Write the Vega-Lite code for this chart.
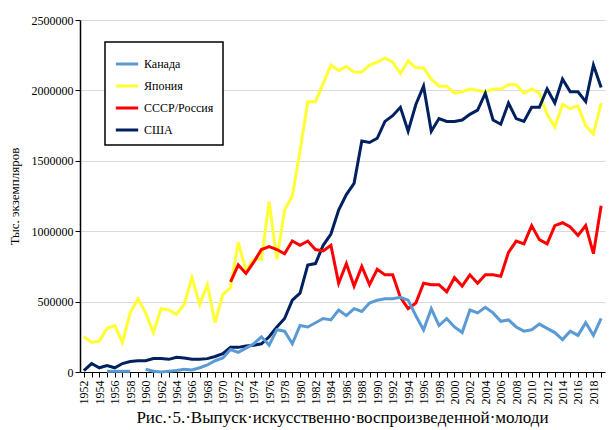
{
  "$schema": "https://vega.github.io/schema/vega-lite/v6.json",
  "width": 615,
  "height": 430,
  "autosize": {"type": "fit", "contains": "padding"},
  "padding": {"left": 8, "right": 8, "top": 14, "bottom": 4},
  "background": "#ffffff",
  "title": {
    "text": "Рис.·5.·Выпуск·искусственно·воспроизведенной·молоди",
    "orient": "bottom",
    "font": "Liberation Serif",
    "fontSize": 17,
    "fontWeight": "normal",
    "color": "#000000",
    "offset": 6
  },
  "config": {
    "view": {"stroke": null},
    "axis": {"labelFont": "Liberation Serif", "labelFontSize": 12, "labelColor": "#000000", "titleFont": "Liberation Serif", "titleFontWeight": "normal", "titleFontSize": 13, "titleColor": "#000000"},
    "legend": {"strokeWidth": 1.5}
  },
  "data": {
    "values": [
      {"y":1952,"s":"Япония","g":"j","v":250},{"y":1953,"s":"Япония","g":"j","v":210},{"y":1954,"s":"Япония","g":"j","v":220},{"y":1955,"s":"Япония","g":"j","v":310},{"y":1956,"s":"Япония","g":"j","v":330},{"y":1957,"s":"Япония","g":"j","v":210},{"y":1958,"s":"Япония","g":"j","v":420},{"y":1959,"s":"Япония","g":"j","v":520},{"y":1960,"s":"Япония","g":"j","v":420},{"y":1961,"s":"Япония","g":"j","v":280},{"y":1962,"s":"Япония","g":"j","v":450},{"y":1963,"s":"Япония","g":"j","v":440},{"y":1964,"s":"Япония","g":"j","v":410},{"y":1965,"s":"Япония","g":"j","v":480},{"y":1966,"s":"Япония","g":"j","v":670},{"y":1967,"s":"Япония","g":"j","v":480},{"y":1968,"s":"Япония","g":"j","v":620},{"y":1969,"s":"Япония","g":"j","v":350},{"y":1970,"s":"Япония","g":"j","v":550},{"y":1971,"s":"Япония","g":"j","v":600},{"y":1972,"s":"Япония","g":"j","v":920},{"y":1973,"s":"Япония","g":"j","v":720},{"y":1974,"s":"Япония","g":"j","v":800},{"y":1975,"s":"Япония","g":"j","v":800},{"y":1976,"s":"Япония","g":"j","v":1210},{"y":1977,"s":"Япония","g":"j","v":800},{"y":1978,"s":"Япония","g":"j","v":1150},{"y":1979,"s":"Япония","g":"j","v":1250},{"y":1980,"s":"Япония","g":"j","v":1570},{"y":1981,"s":"Япония","g":"j","v":1920},{"y":1982,"s":"Япония","g":"j","v":1920},{"y":1983,"s":"Япония","g":"j","v":2050},{"y":1984,"s":"Япония","g":"j","v":2180},{"y":1985,"s":"Япония","g":"j","v":2140},{"y":1986,"s":"Япония","g":"j","v":2170},{"y":1987,"s":"Япония","g":"j","v":2130},{"y":1988,"s":"Япония","g":"j","v":2130},{"y":1989,"s":"Япония","g":"j","v":2180},{"y":1990,"s":"Япония","g":"j","v":2200},{"y":1991,"s":"Япония","g":"j","v":2230},{"y":1992,"s":"Япония","g":"j","v":2200},{"y":1993,"s":"Япония","g":"j","v":2120},{"y":1994,"s":"Япония","g":"j","v":2210},{"y":1995,"s":"Япония","g":"j","v":2160},{"y":1996,"s":"Япония","g":"j","v":2160},{"y":1997,"s":"Япония","g":"j","v":2080},{"y":1998,"s":"Япония","g":"j","v":2030},{"y":1999,"s":"Япония","g":"j","v":2030},{"y":2000,"s":"Япония","g":"j","v":1980},{"y":2001,"s":"Япония","g":"j","v":1990},{"y":2002,"s":"Япония","g":"j","v":2010},{"y":2003,"s":"Япония","g":"j","v":2000},{"y":2004,"s":"Япония","g":"j","v":1990},{"y":2005,"s":"Япония","g":"j","v":2010},{"y":2006,"s":"Япония","g":"j","v":2010},{"y":2007,"s":"Япония","g":"j","v":2040},{"y":2008,"s":"Япония","g":"j","v":2040},{"y":2009,"s":"Япония","g":"j","v":1980},{"y":2010,"s":"Япония","g":"j","v":2010},{"y":2011,"s":"Япония","g":"j","v":1980},{"y":2012,"s":"Япония","g":"j","v":1830},{"y":2013,"s":"Япония","g":"j","v":1740},{"y":2014,"s":"Япония","g":"j","v":1900},{"y":2015,"s":"Япония","g":"j","v":1870},{"y":2016,"s":"Япония","g":"j","v":1890},{"y":2017,"s":"Япония","g":"j","v":1750},{"y":2018,"s":"Япония","g":"j","v":1690},{"y":2019,"s":"Япония","g":"j","v":1910},
      {"y":1952,"s":"США","g":"u","v":10},{"y":1953,"s":"США","g":"u","v":60},{"y":1954,"s":"США","g":"u","v":30},{"y":1955,"s":"США","g":"u","v":45},{"y":1956,"s":"США","g":"u","v":30},{"y":1957,"s":"США","g":"u","v":60},{"y":1958,"s":"США","g":"u","v":75},{"y":1959,"s":"США","g":"u","v":80},{"y":1960,"s":"США","g":"u","v":80},{"y":1961,"s":"США","g":"u","v":95},{"y":1962,"s":"США","g":"u","v":95},{"y":1963,"s":"США","g":"u","v":90},{"y":1964,"s":"США","g":"u","v":105},{"y":1965,"s":"США","g":"u","v":100},{"y":1966,"s":"США","g":"u","v":90},{"y":1967,"s":"США","g":"u","v":90},{"y":1968,"s":"США","g":"u","v":95},{"y":1969,"s":"США","g":"u","v":110},{"y":1970,"s":"США","g":"u","v":130},{"y":1971,"s":"США","g":"u","v":175},{"y":1972,"s":"США","g":"u","v":175},{"y":1973,"s":"США","g":"u","v":185},{"y":1974,"s":"США","g":"u","v":190},{"y":1975,"s":"США","g":"u","v":200},{"y":1976,"s":"США","g":"u","v":250},{"y":1977,"s":"США","g":"u","v":320},{"y":1978,"s":"США","g":"u","v":380},{"y":1979,"s":"США","g":"u","v":510},{"y":1980,"s":"США","g":"u","v":560},{"y":1981,"s":"США","g":"u","v":760},{"y":1982,"s":"США","g":"u","v":770},{"y":1983,"s":"США","g":"u","v":900},{"y":1984,"s":"США","g":"u","v":980},{"y":1985,"s":"США","g":"u","v":1150},{"y":1986,"s":"США","g":"u","v":1260},{"y":1987,"s":"США","g":"u","v":1340},{"y":1988,"s":"США","g":"u","v":1640},{"y":1989,"s":"США","g":"u","v":1630},{"y":1990,"s":"США","g":"u","v":1660},{"y":1991,"s":"США","g":"u","v":1780},{"y":1992,"s":"США","g":"u","v":1820},{"y":1993,"s":"США","g":"u","v":1880},{"y":1994,"s":"США","g":"u","v":1710},{"y":1995,"s":"США","g":"u","v":1900},{"y":1996,"s":"США","g":"u","v":2030},{"y":1997,"s":"США","g":"u","v":1710},{"y":1998,"s":"США","g":"u","v":1800},{"y":1999,"s":"США","g":"u","v":1780},{"y":2000,"s":"США","g":"u","v":1780},{"y":2001,"s":"США","g":"u","v":1790},{"y":2002,"s":"США","g":"u","v":1830},{"y":2003,"s":"США","g":"u","v":1860},{"y":2004,"s":"США","g":"u","v":1980},{"y":2005,"s":"США","g":"u","v":1790},{"y":2006,"s":"США","g":"u","v":1760},{"y":2007,"s":"США","g":"u","v":1910},{"y":2008,"s":"США","g":"u","v":1800},{"y":2009,"s":"США","g":"u","v":1780},{"y":2010,"s":"США","g":"u","v":1880},{"y":2011,"s":"США","g":"u","v":1880},{"y":2012,"s":"США","g":"u","v":2010},{"y":2013,"s":"США","g":"u","v":1910},{"y":2014,"s":"США","g":"u","v":2080},{"y":2015,"s":"США","g":"u","v":1990},{"y":2016,"s":"США","g":"u","v":1990},{"y":2017,"s":"США","g":"u","v":1920},{"y":2018,"s":"США","g":"u","v":2180},{"y":2019,"s":"США","g":"u","v":2020},
      {"y":1971,"s":"СССР/Россия","g":"r","v":640},{"y":1972,"s":"СССР/Россия","g":"r","v":760},{"y":1973,"s":"СССР/Россия","g":"r","v":700},{"y":1974,"s":"СССР/Россия","g":"r","v":780},{"y":1975,"s":"СССР/Россия","g":"r","v":870},{"y":1976,"s":"СССР/Россия","g":"r","v":890},{"y":1977,"s":"СССР/Россия","g":"r","v":870},{"y":1978,"s":"СССР/Россия","g":"r","v":840},{"y":1979,"s":"СССР/Россия","g":"r","v":930},{"y":1980,"s":"СССР/Россия","g":"r","v":900},{"y":1981,"s":"СССР/Россия","g":"r","v":930},{"y":1982,"s":"СССР/Россия","g":"r","v":870},{"y":1983,"s":"СССР/Россия","g":"r","v":860},{"y":1984,"s":"СССР/Россия","g":"r","v":900},{"y":1985,"s":"СССР/Россия","g":"r","v":630},{"y":1986,"s":"СССР/Россия","g":"r","v":770},{"y":1987,"s":"СССР/Россия","g":"r","v":610},{"y":1988,"s":"СССР/Россия","g":"r","v":750},{"y":1989,"s":"СССР/Россия","g":"r","v":620},{"y":1990,"s":"СССР/Россия","g":"r","v":730},{"y":1991,"s":"СССР/Россия","g":"r","v":690},{"y":1992,"s":"СССР/Россия","g":"r","v":690},{"y":1993,"s":"СССР/Россия","g":"r","v":530},{"y":1994,"s":"СССР/Россия","g":"r","v":450},{"y":1995,"s":"СССР/Россия","g":"r","v":490},{"y":1996,"s":"СССР/Россия","g":"r","v":630},{"y":1997,"s":"СССР/Россия","g":"r","v":620},{"y":1998,"s":"СССР/Россия","g":"r","v":620},{"y":1999,"s":"СССР/Россия","g":"r","v":570},{"y":2000,"s":"СССР/Россия","g":"r","v":670},{"y":2001,"s":"СССР/Россия","g":"r","v":610},{"y":2002,"s":"СССР/Россия","g":"r","v":690},{"y":2003,"s":"СССР/Россия","g":"r","v":630},{"y":2004,"s":"СССР/Россия","g":"r","v":690},{"y":2005,"s":"СССР/Россия","g":"r","v":690},{"y":2006,"s":"СССР/Россия","g":"r","v":680},{"y":2007,"s":"СССР/Россия","g":"r","v":850},{"y":2008,"s":"СССР/Россия","g":"r","v":930},{"y":2009,"s":"СССР/Россия","g":"r","v":910},{"y":2010,"s":"СССР/Россия","g":"r","v":1040},{"y":2011,"s":"СССР/Россия","g":"r","v":940},{"y":2012,"s":"СССР/Россия","g":"r","v":910},{"y":2013,"s":"СССР/Россия","g":"r","v":1040},{"y":2014,"s":"СССР/Россия","g":"r","v":1060},{"y":2015,"s":"СССР/Россия","g":"r","v":1030},{"y":2016,"s":"СССР/Россия","g":"r","v":970},{"y":2017,"s":"СССР/Россия","g":"r","v":1040},{"y":2018,"s":"СССР/Россия","g":"r","v":840},{"y":2019,"s":"СССР/Россия","g":"r","v":1180},
      {"y":1955,"s":"Канада","g":"c1","v":5},{"y":1956,"s":"Канада","g":"c1","v":5},{"y":1957,"s":"Канада","g":"c1","v":5},{"y":1958,"s":"Канада","g":"c1","v":5},
      {"y":1960,"s":"Канада","g":"c2","v":20},{"y":1961,"s":"Канада","g":"c2","v":5},{"y":1962,"s":"Канада","g":"c2","v":0},{"y":1963,"s":"Канада","g":"c2","v":5},{"y":1964,"s":"Канада","g":"c2","v":10},{"y":1965,"s":"Канада","g":"c2","v":20},{"y":1966,"s":"Канада","g":"c2","v":15},{"y":1967,"s":"Канада","g":"c2","v":30},{"y":1968,"s":"Канада","g":"c2","v":50},{"y":1969,"s":"Канада","g":"c2","v":80},{"y":1970,"s":"Канада","g":"c2","v":100},{"y":1971,"s":"Канада","g":"c2","v":160},{"y":1972,"s":"Канада","g":"c2","v":140},{"y":1973,"s":"Канада","g":"c2","v":170},{"y":1974,"s":"Канада","g":"c2","v":200},{"y":1975,"s":"Канада","g":"c2","v":250},{"y":1976,"s":"Канада","g":"c2","v":190},{"y":1977,"s":"Канада","g":"c2","v":300},{"y":1978,"s":"Канада","g":"c2","v":290},{"y":1979,"s":"Канада","g":"c2","v":200},{"y":1980,"s":"Канада","g":"c2","v":330},{"y":1981,"s":"Канада","g":"c2","v":320},{"y":1982,"s":"Канада","g":"c2","v":350},{"y":1983,"s":"Канада","g":"c2","v":380},{"y":1984,"s":"Канада","g":"c2","v":370},{"y":1985,"s":"Канада","g":"c2","v":440},{"y":1986,"s":"Канада","g":"c2","v":400},{"y":1987,"s":"Канада","g":"c2","v":450},{"y":1988,"s":"Канада","g":"c2","v":430},{"y":1989,"s":"Канада","g":"c2","v":490},{"y":1990,"s":"Канада","g":"c2","v":510},{"y":1991,"s":"Канада","g":"c2","v":520},{"y":1992,"s":"Канада","g":"c2","v":520},{"y":1993,"s":"Канада","g":"c2","v":530},{"y":1994,"s":"Канада","g":"c2","v":510},{"y":1995,"s":"Канада","g":"c2","v":400},{"y":1996,"s":"Канада","g":"c2","v":300},{"y":1997,"s":"Канада","g":"c2","v":450},{"y":1998,"s":"Канада","g":"c2","v":330},{"y":1999,"s":"Канада","g":"c2","v":380},{"y":2000,"s":"Канада","g":"c2","v":320},{"y":2001,"s":"Канада","g":"c2","v":280},{"y":2002,"s":"Канада","g":"c2","v":440},{"y":2003,"s":"Канада","g":"c2","v":420},{"y":2004,"s":"Канада","g":"c2","v":460},{"y":2005,"s":"Канада","g":"c2","v":420},{"y":2006,"s":"Канада","g":"c2","v":360},{"y":2007,"s":"Канада","g":"c2","v":370},{"y":2008,"s":"Канада","g":"c2","v":320},{"y":2009,"s":"Канада","g":"c2","v":290},{"y":2010,"s":"Канада","g":"c2","v":300},{"y":2011,"s":"Канада","g":"c2","v":340},{"y":2012,"s":"Канада","g":"c2","v":310},{"y":2013,"s":"Канада","g":"c2","v":280},{"y":2014,"s":"Канада","g":"c2","v":230},{"y":2015,"s":"Канада","g":"c2","v":290},{"y":2016,"s":"Канада","g":"c2","v":260},{"y":2017,"s":"Канада","g":"c2","v":350},{"y":2018,"s":"Канада","g":"c2","v":260},{"y":2019,"s":"Канада","g":"c2","v":380}
    ]
  },
  "transform": [{"calculate": "datum.v * 1000", "as": "val"}],
  "mark": {"type": "line", "strokeWidth": 3},
  "encoding": {
    "x": {
      "field": "y", "type": "ordinal", "title": null,
      "scale": {"domain": [1952,1953,1954,1955,1956,1957,1958,1959,1960,1961,1962,1963,1964,1965,1966,1967,1968,1969,1970,1971,1972,1973,1974,1975,1976,1977,1978,1979,1980,1981,1982,1983,1984,1985,1986,1987,1988,1989,1990,1991,1992,1993,1994,1995,1996,1997,1998,1999,2000,2001,2002,2003,2004,2005,2006,2007,2008,2009,2010,2011,2012,2013,2014,2015,2016,2017,2018,2019], "padding": 0.5},
      "axis": {"labelAngle": -90, "labelExpr": "datum.value % 2 == 0 ? datum.label : ''", "domainColor": "#000000", "tickColor": "#000000", "labelPadding": 3}
    },
    "y": {
      "field": "val", "type": "quantitative", "title": "Тыс. экземпляров",
      "scale": {"domain": [0, 2500000]},
      "axis": {"values": [0, 500000, 1000000, 1500000, 2000000, 2500000], "format": "d", "gridColor": "#d9d9d9", "domainColor": "#000000", "domainWidth": 1.5, "tickColor": "#000000", "titlePadding": 10}
    },
    "detail": {"field": "g"},
    "color": {
      "field": "s", "type": "nominal",
      "scale": {"domain": ["Канада", "Япония", "СССР/Россия", "США"], "range": ["#5b9bd5", "#ffff33", "#ff0000", "#002060"]},
      "legend": {"title": null, "orient": "none", "legendX": 25, "legendY": 22, "symbolType": "stroke", "symbolStrokeWidth": 3, "symbolSize": 500, "labelFont": "Liberation Serif", "labelFontSize": 12, "labelColor": "#000000", "labelLimit": 200, "strokeColor": "#000000", "fillColor": "#ffffff", "padding": 9, "rowPadding": 3}
    }
  }
}
